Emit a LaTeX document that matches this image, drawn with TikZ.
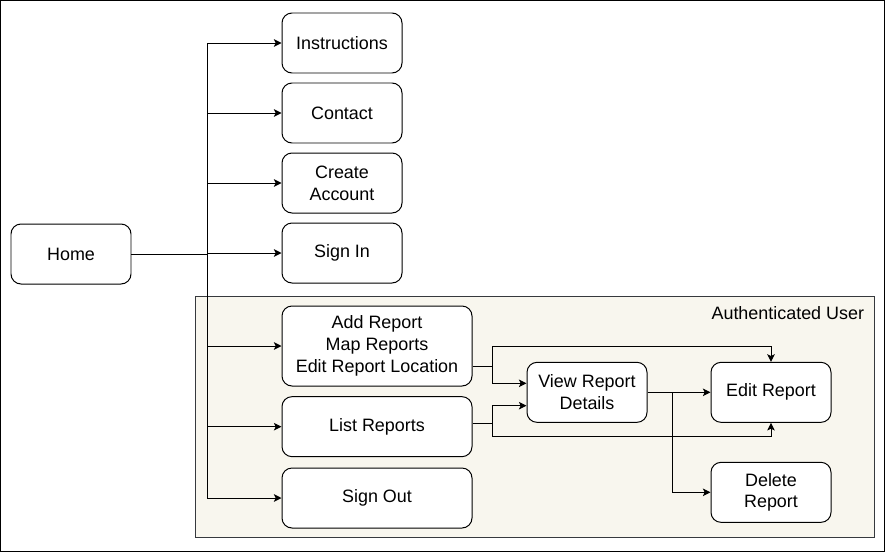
\documentclass[tikz,border=0pt]{standalone}
\usepackage{fontspec}
\setmainfont{Liberation Sans}
\usepackage{tikz}
\usetikzlibrary{shapes.geometric,arrows.meta}
\definecolor{groupfill}{HTML}{F8F6EE}
\definecolor{groupline}{HTML}{36393D}
\tikzstyle{menubox} = [rectangle, rounded corners=0.3cm, minimum width = 3.6cm, minimum height=1.8cm, align=center, draw = black, fill=white, line width=0.85pt]
\tikzstyle{widebox} = [menubox, minimum width = 5.7cm]
\tikzstyle{arrow} = [line width=0.85pt,->,>={Stealth[length=6.5pt,width=6.5pt,inset=1.5pt]}]

\begin{document}
\begin{tikzpicture}[node distance = 2.1cm, font=\fontsize{15.3}{18.7}\selectfont]

\useasboundingbox (-2.13,7.62) rectangle (24.42,-8.94);
\draw [line width=0.85pt] (-2.115,7.605) rectangle (24.405,-8.925);

\node(authgroup) [rectangle, draw = groupline, fill = groupfill, line width=0.85pt, minimum width=20.37cm, minimum height=7.23cm] at (13.905,-4.875) {};
\node(authlabel) [anchor = east] at ([xshift=-0.19cm,yshift=-0.53cm]authgroup.north east) {Authenticated User};

\node(home) [menubox] {Home};
\node(instr) [menubox] at (8.13,6.33) {Instructions};
\node(contact) [menubox, below of = instr] {Contact};
\node(create) [menubox, below of = contact] {Create\\Account};
\node(signin) [menubox, below of = create] {Sign In};
\node(addrep) [widebox, minimum height=2.4cm, below of = signin, xshift=1.05cm, yshift=-0.69cm] {Add Report\\Map Reports\\Edit Report Location};
\node(listrep) [widebox, below of = addrep, yshift=-0.32cm] {List Reports};
\node(signout) [widebox, below of = listrep, yshift=-0.04cm] {Sign Out};
\node(view) [menubox, right of = addrep, xshift=4.2cm, yshift=-1.39cm] {View Report\\Details};
\node(edit) [menubox, right of = view, xshift=3.42cm] {Edit Report};
\node(delete) [menubox, below of = edit, yshift=-0.9cm] {Delete\\Report};

\coordinate (trunk) at (4.08,0);
\coordinate (addfork) at ([xshift=0.6cm,yshift=-0.6cm]addrep.east);
\coordinate (listfork) at ([xshift=0.6cm,yshift=0.1cm]listrep.east);
\coordinate (viewfork) at ([xshift=0.75cm]view.east);

\draw [arrow] (home.east) -- (trunk) |- (instr.west);
\draw [arrow] (home.east) -- (trunk) |- (contact.west);
\draw [arrow] (home.east) -- (trunk) |- (create.west);
\draw [arrow] (home.east) -- (trunk) |- (signin.west);
\draw [arrow] (home.east) -- (trunk) |- (addrep.west);
\draw [arrow] (home.east) -- (trunk) |- (listrep.west);
\draw [arrow] (home.east) -- (trunk) |- (signout.west);

\draw [arrow] ([yshift=-0.6cm]addrep.east) -- (addfork) -- (addfork |- addrep.east) -| (edit.north);
\draw [arrow] (addfork) |- ([yshift=0.27cm]view.west);
\draw [arrow] ([yshift=0.1cm]listrep.east) -- (listfork) |- ([yshift=-0.4cm]view.west);
\draw [arrow] (listfork) -- ++(0,-0.4) -| (edit.south);
\draw [arrow] (view) -- (edit);
\draw [arrow] (viewfork) |- (delete.west);

\end{tikzpicture}
\end{document}
